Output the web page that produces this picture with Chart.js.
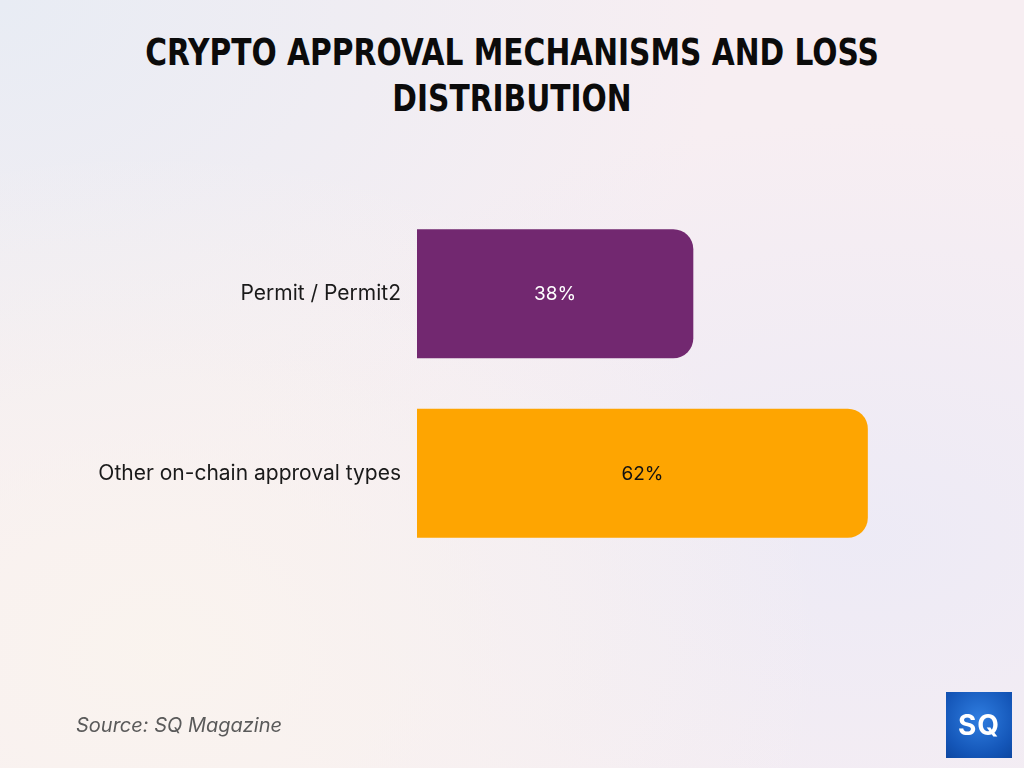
<!DOCTYPE html>
<html>
<head>
<meta charset="utf-8">
<script src="https://cdn.jsdelivr.net/npm/chart.js@4.4.1/dist/chart.umd.min.js"></script>
<style>
  html, body { margin: 0; padding: 0; }
  body {
    width: 1024px; height: 768px; position: relative; overflow: hidden;
    background:
      radial-gradient(ellipse at 15% 85%, rgba(250,244,238,0.9) 0%, rgba(250,244,238,0) 55%),
      radial-gradient(ellipse at 85% 70%, rgba(236,234,246,0.9) 0%, rgba(236,234,246,0) 55%),
      radial-gradient(ellipse at 0% 0%, rgba(232,236,244,1) 0%, rgba(232,236,244,0) 50%),
      #f7eef2;
  }
  #title {
    position: absolute; left: 0; top: 30px; width: 1024px; text-align: center;
    font-family: "Liberation Sans Narrow", "DejaVu Sans Condensed", sans-serif;
    font-stretch: condensed; font-weight: 700; font-size: 33px; line-height: 40.6px;
    color: #0b0b0b; transform: scaleY(1.12); transform-origin: 50% 0;
  }
  #wrap { position: absolute; left: 0; top: 0; width: 1024px; height: 768px; }
  #source {
    position: absolute; left: 76px; top: 713px;
    font-family: Inter, "Noto Sans", sans-serif; font-style: italic;
    font-size: 20px; color: #5a5a5a;
  }
  #logo {
    position: absolute; left: 946px; top: 692px; width: 66px; height: 66px;
    background: radial-gradient(circle at 50% 40%, #2f7de0 0%, #1456b8 70%, #0d47a1 100%);
    color: #fff; font-family: Inter, sans-serif; font-weight: 700; font-size: 28px;
    display: flex; align-items: center; justify-content: center; letter-spacing: 1px;
  }
</style>
</head>
<body>
<div id="title">CRYPTO APPROVAL MECHANISMS AND LOSS<br>DISTRIBUTION</div>
<div id="wrap"><canvas id="chart" width="1024" height="768"></canvas></div>
<div id="source">Source: SQ Magazine</div>
<div id="logo">SQ</div>
<script>
const categories = ['Permit / Permit2', 'Other on-chain approval types'];
const shares = [38, 62];
const barColors = ['#722870', '#fea501'];
const valueColors = ['#ffffff', '#111111'];

const valueLabels = {
  id: 'valueLabels',
  afterDatasetsDraw(chart) {
    const ctx = chart.ctx;
    const meta = chart.getDatasetMeta(0);
    ctx.save();
    ctx.font = '19px Inter, "Noto Sans", sans-serif';
    ctx.textAlign = 'center';
    ctx.textBaseline = 'middle';
    meta.data.forEach((bar, i) => {
      const cx = (bar.x + bar.base) / 2;
      ctx.fillStyle = valueColors[i];
      ctx.fillText(shares[i] + '%', cx, bar.y + 1);
    });
    ctx.restore();
  }
};

new Chart(document.getElementById('chart'), {
  type: 'bar',
  data: {
    labels: categories,
    datasets: [{
      data: shares,
      backgroundColor: barColors,
      borderRadius: { topLeft: 0, bottomLeft: 0, topRight: 20, bottomRight: 20 },
      borderSkipped: false
    }]
  },
  plugins: [valueLabels],
  options: {
    indexAxis: 'y',
    responsive: false,
    animation: false,
    layout: { padding: { top: 204, bottom: 205, left: 0, right: 98 } },
    plugins: { legend: { display: false }, tooltip: { enabled: false } },
    scales: {
      x: { min: 0, max: 70, display: false },
      y: {
        grid: { display: false, drawTicks: false },
        border: { display: false },
        afterFit(scale) { scale.width = 417; },
        ticks: {
          padding: 16,
          color: '#1a1a1a',
          font: { family: 'Inter, "Noto Sans", sans-serif', size: 21 }
        }
      }
    }
  }
});
</script>
</body>
</html>
